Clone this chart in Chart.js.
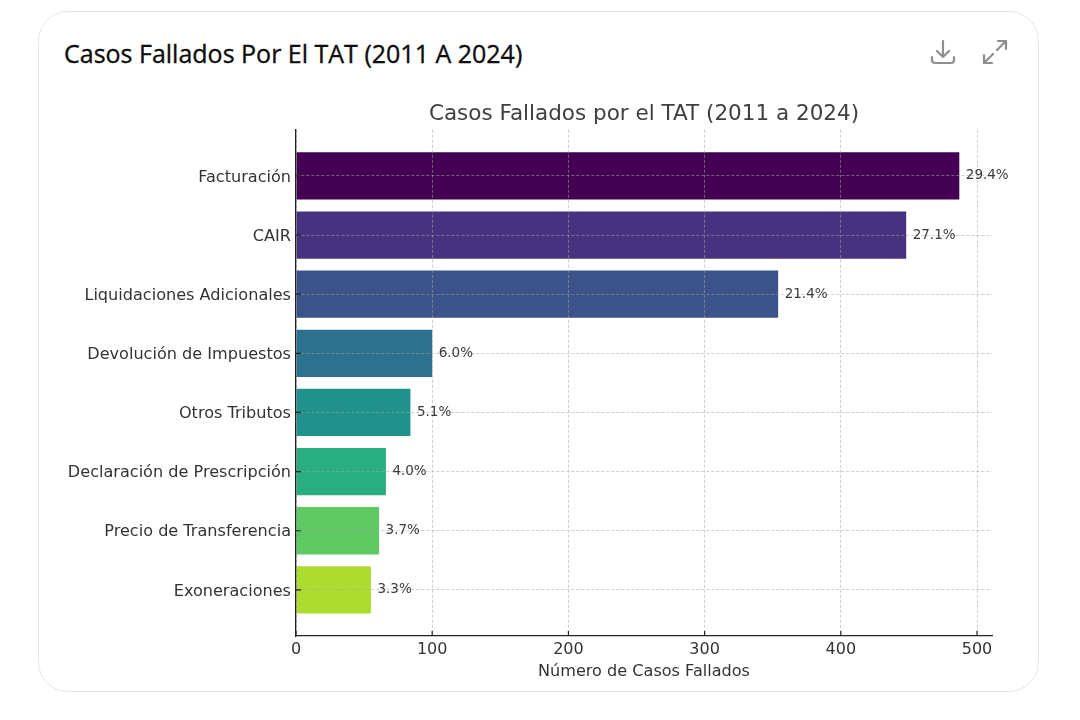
<!DOCTYPE html>
<html><head><meta charset="utf-8">
<script src="https://cdn.jsdelivr.net/npm/chart.js@4"></script>
<style>
html,body{margin:0;padding:0;background:#fff;width:1080px;height:720px;overflow:hidden}
#card{position:absolute;left:38px;top:11px;width:999px;height:679px;border:1px solid #e6e6e6;border-radius:30px;box-sizing:content-box}
#head{position:absolute;left:64px;top:36px;font:500 25px "Open Sans",sans-serif;color:#0d0d0d;white-space:nowrap;-webkit-text-stroke:.35px #0d0d0d}
#cv{position:absolute;left:0;top:0}
svg{position:absolute;fill:none;stroke:#8e8e8e;stroke-width:2.2;stroke-linecap:round;stroke-linejoin:round}
</style></head><body>
<div id="card"></div>
<div id="head">Casos Fallados Por El TAT (2011 A 2024)</div>
<svg style="left:929px;top:38px" width="28" height="28" viewBox="0 0 28 28"><path d="M14 3v16M8 13l6 6 6-6M3 19v3a3 3 0 0 0 3 3h16a3 3 0 0 0 3-3v-3"/></svg>
<svg style="left:981px;top:38px" width="28" height="28" viewBox="0 0 28 28"><path d="M16 12L25 3M17 3h8v8M12 16L3 25M3 17v8h8"/></svg>
<canvas id="cv" width="1080" height="720"></canvas>
<script>
const categories=["Facturación","CAIR","Liquidaciones Adicionales","Devolución de Impuestos","Otros Tributos","Declaración de Prescripción","Precio de Transferencia","Exoneraciones"];
const casos=[487,448,354,100,84,66,61,55];
const porcentajes=["29.4%","27.1%","21.4%","6.0%","5.1%","4.0%","3.7%","3.3%"];
const colores=["#440154","#46327e","#3b528b","#2c728e","#21918c","#28ae80","#5ec962","#addc30"];
const xTicks=[0,100,200,300,400,500];
const FONT="'DejaVu Sans'";
const GRID="rgba(165,165,165,.55)";
const centerTitle={id:'centerTitle',afterLayout(c){const t=c.titleBlock;t.left=c.chartArea.left;t.right=c.chartArea.right;t.width=t.right-t.left;}};
const valueLabels={id:'valueLabels',afterDraw(c){const g=c.ctx,m=c.getDatasetMeta(0),a=c.chartArea;g.save();
g.strokeStyle="#222";g.lineWidth=1.2;g.beginPath();
xTicks.forEach(v=>{const x=c.scales.x.getPixelForValue(v);g.moveTo(x,a.bottom);g.lineTo(x,a.bottom-5);});
categories.forEach((n,i)=>{const y=c.scales.y.getPixelForValue(i);g.moveTo(a.left,y);g.lineTo(a.left+5,y);});
g.stroke();
g.font="13.5px "+FONT;g.fillStyle="#3a3a3a";g.textAlign="left";g.textBaseline="middle";
m.data.forEach((b,i)=>g.fillText(porcentajes[i],b.x+6.5,b.y));g.restore();}};
new Chart(document.getElementById('cv'),{
type:'bar',
data:{datasets:[{data:casos.map((v,i)=>({x:v,y:i})),backgroundColor:colores,borderWidth:0,barPercentage:.8,categoryPercentage:1}]},
plugins:[centerTitle,valueLabels],
options:{indexAxis:'y',responsive:false,animation:false,
layout:{padding:{top:102,left:0,right:88,bottom:39}},
plugins:{legend:{display:false},tooltip:{enabled:false},
title:{display:true,text:"Casos Fallados por el TAT (2011 a 2024)",color:"#3f3f3f",font:{family:FONT,size:21.5,weight:'normal'},padding:{top:0,bottom:2}}},
scales:{
x:{type:'linear',min:0,max:511,afterBuildTicks(s){s.ticks=xTicks.map(v=>({value:v}));},afterFit(s){s.height=45;},
grid:{color:GRID,z:1,drawTicks:false},
border:{color:"#222",width:1.3,dash:[3,2],z:2},
ticks:{color:"#333",padding:4,font:{family:FONT,size:16},autoSkip:false,maxRotation:0},
title:{display:true,text:"Número de Casos Fallados",color:"#333",font:{family:FONT,size:16.1},padding:{top:2,bottom:0}}},
y:{type:'linear',reverse:true,offset:false,min:-0.78,max:7.78,afterBuildTicks(s){s.ticks=categories.map((c,i)=>({value:i}));},afterFit(s){s.width=296;},
grid:{offset:false,color:GRID,z:1,drawTicks:false},
border:{color:"#222",width:1.3,dash:[3,2],z:2},
ticks:{color:"#333",padding:5,labelOffset:1.5,font:{family:FONT,size:16.1},autoSkip:false,callback:(v)=>categories[v]}}
}}});
</script></body></html>
